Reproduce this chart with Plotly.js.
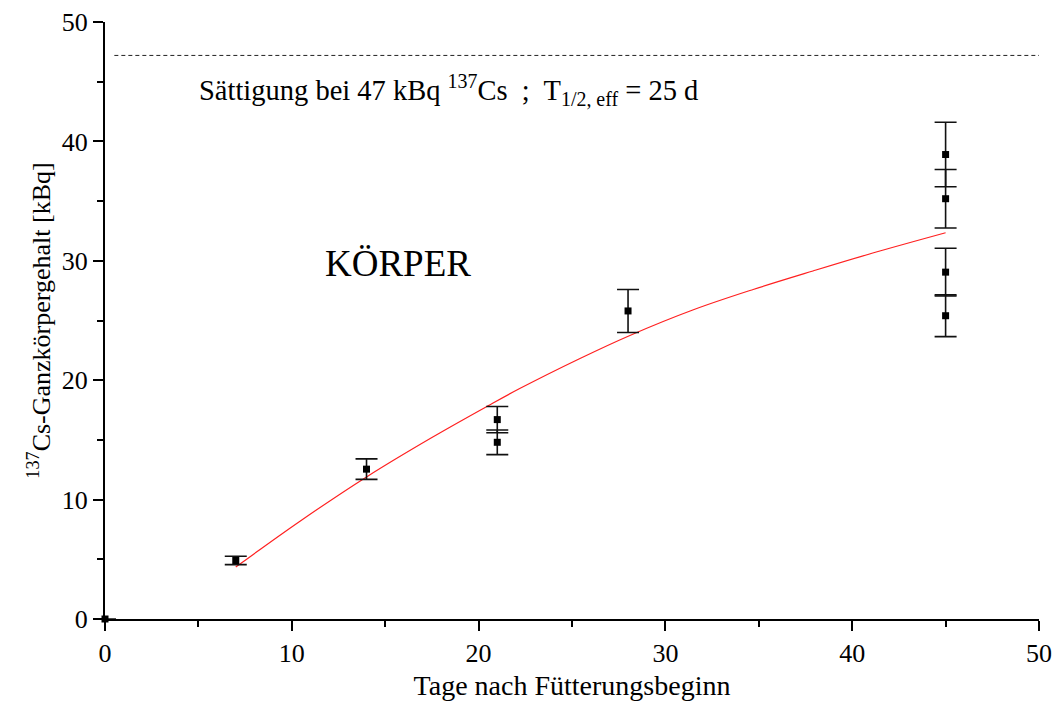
<!DOCTYPE html>
<html>
<head>
<meta charset="utf-8">
<script src="https://cdn.plot.ly/plotly-3.0.1.min.js"></script>
<style>
  html, body { margin: 0; padding: 0; background: #ffffff; }
  #chart { width: 1055px; height: 711px; }
</style>
</head>
<body>
<div id="chart"></div>
<script>
// Measured whole-body 137Cs activity (kBq) versus days after feeding start
const days      = [0, 7, 14, 21, 21, 28, 45, 45, 45, 45];
const activity  = [0, 4.9, 12.55, 16.7, 14.8, 25.8, 38.9, 35.2, 29.05, 25.4];
const errors    = [0, 0.35, 0.86, 1.1, 1.03, 1.8, 2.7, 2.45, 2.0, 1.75];

// Fitted build-up curve
const fitDays     = [7.0, 10.4, 14.0, 17.5, 20.5, 22.2, 25.4, 28.1, 31.5, 34.7, 37.9, 41.1, 45.0];
const fitActivity = [4.35, 8.15, 11.9, 15.2, 17.85, 19.3, 21.8, 23.75, 25.9, 27.6, 29.15, 30.65, 32.35];

// Saturation level
const satDays     = [0.5, 50];
const satActivity = [47.2, 47.2];

const serif = '"Liberation Serif", "Times New Roman", Times, "DejaVu Serif", serif';

const traces = [
  {
    x: satDays, y: satActivity,
    type: 'scatter', mode: 'lines',
    line: { color: '#222222', width: 1, dash: '4px,3px' },
    hoverinfo: 'skip', showlegend: false
  },
  {
    x: fitDays, y: fitActivity,
    type: 'scatter', mode: 'lines',
    line: { color: '#ff2020', width: 1.2, shape: 'spline', smoothing: 1 },
    showlegend: false
  },
  {
    x: days, y: activity,
    type: 'scatter', mode: 'markers',
    marker: { symbol: 'square', size: 7, color: '#000000' },
    error_y: { type: 'data', array: errors, visible: true, color: '#111111', thickness: 1.6, width: 11 },
    cliponaxis: false,
    showlegend: false
  }
];

const axisCommon = {
  range: [0, 50],
  showgrid: false,
  zeroline: false,
  showline: true,
  linecolor: '#000000',
  linewidth: 2,
  ticks: 'outside',
  ticklen: 10,
  tickwidth: 2,
  tickcolor: '#000000',
  dtick: 10,
  tick0: 0,
  minor: { ticks: 'outside', dtick: 5, ticklen: 6, tickwidth: 2, tickcolor: '#000000' },
  tickfont: { family: serif, size: 26, color: '#000000' },
  automargin: false,
  fixedrange: true
};

const layout = {
  width: 1055,
  height: 711,
  margin: { l: 105, r: 16, t: 22, b: 92 },
  paper_bgcolor: '#ffffff',
  plot_bgcolor: '#ffffff',
  font: { family: serif, color: '#000000' },
  showlegend: false,
  xaxis: Object.assign({}, axisCommon, {
    title: { text: 'Tage nach Fütterungsbeginn', font: { family: serif, size: 28, color: '#000000' }, standoff: 8 }
  }),
  yaxis: Object.assign({}, axisCommon, {
    title: { text: '<sup>137</sup>Cs-Ganzkörpergehalt [kBq]', font: { family: serif, size: 26, color: '#000000' }, standoff: 4 }
  }),
  annotations: [
    {
      x: 4.9, y: 44.3, xref: 'x', yref: 'y',
      xanchor: 'left', yanchor: 'middle',
      text: 'Sättigung bei 47 kBq <sup>137</sup>Cs&nbsp; ;&nbsp; T<sub>1/2, eff</sub> = 25 d',
      showarrow: false,
      font: { family: serif, size: 28.5, color: '#000000' }
    },
    {
      x: 15.66, y: 29.8, xref: 'x', yref: 'y',
      xanchor: 'center', yanchor: 'middle',
      text: 'KÖRPER',
      showarrow: false,
      font: { family: serif, size: 37, color: '#000000' }
    }
  ]
};

Plotly.newPlot('chart', traces, layout, { displayModeBar: false, staticPlot: true });
</script>
</body>
</html>
